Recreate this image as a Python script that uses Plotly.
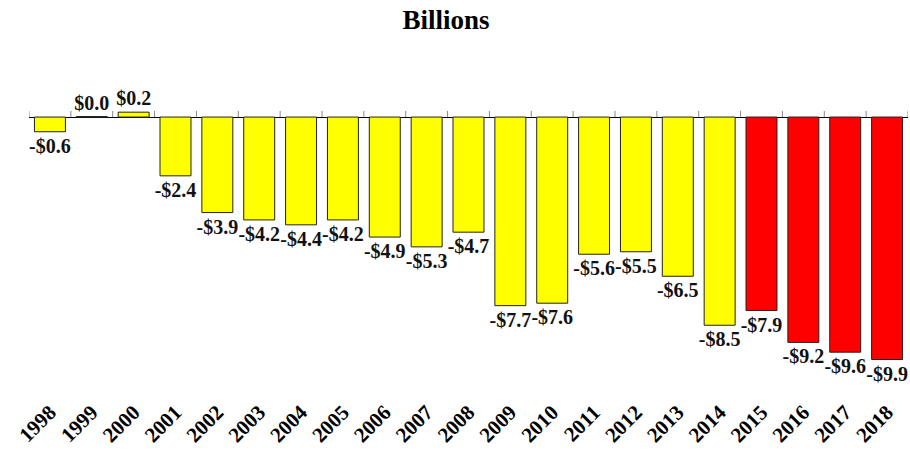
import plotly.graph_objects as go

years = [str(y) for y in range(1998, 2019)]
values = [-0.6, 0.02, 0.2, -2.4, -3.9, -4.2, -4.4, -4.2, -4.9, -5.3, -4.7,
          -7.7, -7.6, -5.6, -5.5, -6.5, -8.5, -7.9, -9.2, -9.6, -9.9]
projected_from = "2015"

SERIF = "Liberation Serif, Times New Roman, serif"

colors = ["#FF0000" if y >= projected_from else "#FFFF00" for y in years]
labels = [f"<b>-${abs(v):.1f}</b>" if v < 0 else f"<b>${v:.1f}</b>" for v in values]

fig = go.Figure(
    go.Bar(
        x=years,
        y=values,
        marker=dict(color=colors, line=dict(color="#222222", width=1)),
        text=labels,
        textposition="outside",
        textfont=dict(family=SERIF, size=20, color="#111111"),
        constraintext="none",
        cliponaxis=False,
    )
)

# small category boundary ticks on the zero line
for i in range(len(years) + 1):
    fig.add_shape(type="line", xref="x", yref="y", x0=i - 0.5, x1=i - 0.5, y0=0, y1=0.25,
                  line=dict(color="#888888", width=1))

fig.update_layout(
    width=910,
    height=453,
    title=dict(text="<b>Billions</b>", x=446 / 910, xanchor="center", y=1 - 20 / 453, yanchor="middle",
               font=dict(family=SERIF, size=27, color="#000000")),
    paper_bgcolor="white",
    plot_bgcolor="white",
    bargap=0.26,
    showlegend=False,
    margin=dict(l=29, r=2, t=60, b=68),
)
fig.update_xaxes(
    type="category",
    tickangle=-45,
    tickfont=dict(family=SERIF, size=21, color="#000000"),
    tickprefix="<b>",
    ticksuffix="</b>",
    ticks="",
    ticklabelstandoff=10,
    showline=False,
    showgrid=False,
    automargin=False,
    range=[-0.5, len(years) - 0.5],
)
fig.update_yaxes(
    range=[-10.94, 2.33],
    showticklabels=False,
    showgrid=False,
    automargin=False,
    zeroline=True,
    zerolinecolor="#000000",
    zerolinewidth=1,
)

fig.write_html("out.html", config={"displayModeBar": False},
               post_script="document.body.style.margin='0';")
